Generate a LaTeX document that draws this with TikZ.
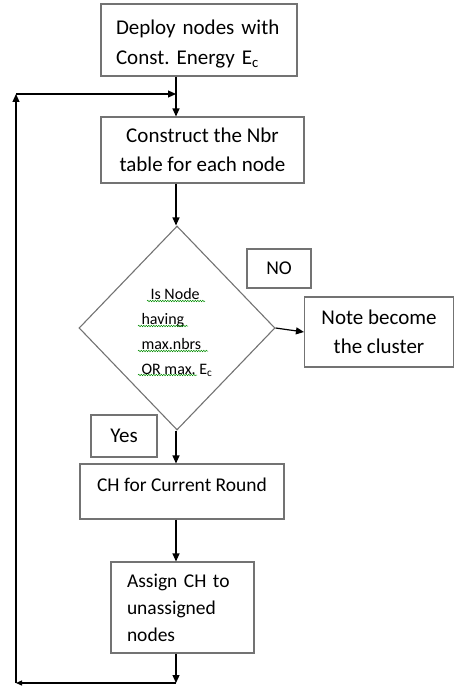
\documentclass[tikz,border=0pt]{standalone}
\usepackage{fontspec}
\setmainfont{Carlito}
\usetikzlibrary{shapes.geometric}
\usetikzlibrary{arrows.meta}
\usetikzlibrary{decorations.pathmorphing}
\frenchspacing

\begin{document}
\begin{tikzpicture}[x=1pt,y=-1pt,
    box/.style={draw=black!55, line width=1.1pt, inner sep=0pt, align=center},
    arr/.style={line width=1.2pt, -{Triangle[length=8pt,width=7pt]}},
    wavy/.style={draw=green!55!black, line width=0.5pt, decorate,
      decoration={snake, amplitude=0.7pt, segment length=2.5pt}}]
  \useasboundingbox (0,0) rectangle (454,687);
  \coordinate (spine) at (176,0);

  % boxes
  \node[box, minimum width=196pt, minimum height=72pt, text width=166pt, align=left,
    font=\fontsize{21}{30}\selectfont] (deploy) at (199,40)
    {\rule{0pt}{22pt}Deploy nodes with\\Const. Energy E\textsubscript{c}};
  \node[box, minimum width=203pt, minimum height=66pt,
    font=\fontsize{21}{29}\selectfont] (nbr) at (202.5,150)
    {Construct the Nbr\\table for each node};
  \node[diamond, draw=black!55, line width=1.1pt, inner sep=0pt, align=left,
    minimum width=196pt, minimum height=204pt,
    font=\fontsize{16}{25}\selectfont] (isnode) at (177,328)
    {\rule{0pt}{20pt}\hspace{9pt}Is Node\\having\\max.nbrs\\OR max. E\textsubscript{c}};
  \node[box, minimum width=149pt, minimum height=70pt,
    font=\fontsize{21}{29}\selectfont] (note) at (379,332)
    {Note become\\the cluster};
  \node[box, minimum width=64pt, minimum height=39pt,
    font=\fontsize{19.5}{24}\selectfont] (no) at (279,268.5) {NO};
  \node[box, minimum width=66pt, minimum height=42pt,
    font=\fontsize{21}{24}\selectfont] (yes) at (124,436) {Yes};
  \node[box, minimum width=204pt, minimum height=55pt, text height=0pt, text depth=0pt,
    font=\fontsize{19.5}{24}\selectfont] (ch) at (182,491.5) {CH for Current Round};
  \node[box, minimum width=143pt, minimum height=91pt, text width=111pt,
    inner xsep=16pt, align=left,
    font=\fontsize{19.5}{27}\selectfont] (assign) at (182.5,607.5)
    {Assign CH to\\unassigned\\nodes};

  % spell-check marks
  \draw[wavy] (147,301) -- (205,301);
  \draw[wavy] (138,326) -- (188,326);
  \draw[wavy] (138,351) -- (208,351);
  \draw[wavy] (138,375) -- (197,375);

  % loop back
  \coordinate (loopbot) at (176,683);
  \coordinate (loopcorner) at (16,683);
  \coordinate (looptop) at (16,94);
  \coordinate (join) at (176,94);

  \draw[arr] (deploy.south -| spine) -- (nbr.north -| spine);
  \draw[arr] (nbr.south -| spine) -- (isnode.north -| spine);
  \draw[arr] (isnode.east) -- (note.west);
  \draw[arr] (isnode.south -| spine) -- (ch.north -| spine);
  \draw[arr] (ch.south -| spine) -- (assign.north -| spine);
  \draw[arr] (assign.south -| spine) -- (loopbot);
  \draw[line width=1.2pt, -{Triangle[length=6pt,width=5pt]}] (loopbot) -- (loopcorner);
  \draw[arr] (loopcorner) -- (looptop);
  \draw[arr] (looptop) -- (join);
\end{tikzpicture}
\end{document}
